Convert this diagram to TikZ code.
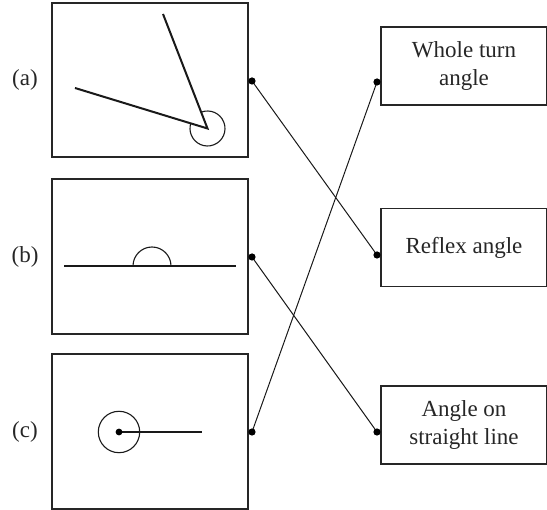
\documentclass[tikz,border=0pt]{standalone}
\usepackage{fontspec}
\setmainfont{Liberation Serif}
\begin{document}
\begin{tikzpicture}[x=1pt,y=-1pt,
  panel/.style={draw=black!85,line width=1.2pt,minimum width=196pt,inner sep=0pt,outer sep=0pt},
  namebox/.style={draw=black!85,line width=1.2pt,minimum width=166pt,minimum height=78pt,inner sep=0pt,outer sep=0pt,align=center,font=\fontsize{23}{28}\selectfont,text=black!85},
  tag/.style={font=\fontsize{23}{28}\selectfont,text=black!85},
  thickline/.style={line width=2pt,black!90},
  thinline/.style={line width=1.1pt,black!90},
  link/.style={line width=1pt,black!90},
  dotmark/.style={fill=black,draw=none}]
\useasboundingbox (0,0) rectangle (547,510);
% left panels
\node[panel,minimum height=154pt] (pa) at (150,80) {};
\node[panel,minimum height=155pt] (pb) at (150,256.5) {};
\node[panel,minimum height=155pt] (pc) at (150,431.5) {};
\node[tag] (la) at (25,80) {(a)};
\node[tag] (lb) at (25,257) {(b)};
\node[tag] (lc) at (25,432) {(c)};
% right boxes
\node[namebox] (wt) at (464,66) {Whole turn\\angle};
\node[namebox] (rf) at (464,247.5) {Reflex angle};
\node[namebox] (sl) at (464,425) {Angle on\\straight line};
% panel (a): reflex angle
\coordinate (va) at (207.5,128.5);
\coordinate (a1) at (163,14);
\coordinate (a2) at (75,88);
\draw[thickline] (a1) -- (va) -- (a2);
\draw[thinline] ([shift={(248.9:17.5)}]va) arc[start angle=248.9,end angle=557,radius=17.5];
% panel (b): straight angle
\coordinate (b1) at (64,266);
\coordinate (b2) at (236,266);
\draw[thickline] (b1) -- (b2);
\draw[thinline] (171,266) arc[start angle=0,end angle=-180,radius=19];
% panel (c): whole turn
\coordinate (vc) at (119,432);
\coordinate (c1) at (202,432);
\draw[thinline] (vc) circle[radius=20.7];
\draw[thinline] (vc) -- (c1);
\fill[dotmark] (vc) circle[radius=3.4];
% dots
\coordinate (da) at (252,81);
\coordinate (db) at (252,257);
\coordinate (dc) at (252,432);
\coordinate (dw) at (377,82);
\coordinate (dr) at (377,255);
\coordinate (ds) at (377,432);
\draw[link] (da) -- (dr);
\draw[link] (db) -- (ds);
\draw[link] (dc) -- (dw);
\foreach \d in {da,db,dc,dw,dr,ds} \fill[dotmark] (\d) circle[radius=3.6];
\end{tikzpicture}
\end{document}
